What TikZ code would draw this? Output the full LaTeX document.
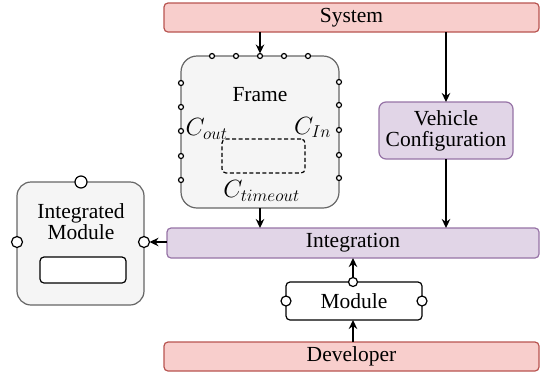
\documentclass[tikz,border=0pt]{standalone}
\usepackage{fontspec}
\setmainfont{Liberation Serif}
\usetikzlibrary{arrows.meta}
\definecolor{redfill}{HTML}{F8CECC}
\definecolor{redline}{HTML}{B85450}
\definecolor{purfill}{HTML}{E1D5E7}
\definecolor{purline}{HTML}{9673A6}
\definecolor{grayfill}{HTML}{F5F5F5}
\definecolor{grayline}{HTML}{666666}
\tikzset{
  x=1pt, y=-1pt,
  every node/.style={inner sep=0pt, outer sep=0pt, font=\fontsize{21.5}{24}\selectfont},
  mathlbl/.style={font=\fontsize{23}{26}\selectfont},
  bar/.style={draw=redline, fill=redfill, rounded corners=4pt, line width=1.2pt, minimum width=375pt, minimum height=29pt},
  pbar/.style={draw=purline, fill=purfill, rounded corners=4pt, line width=1.2pt},
  gbox/.style={draw=grayline, fill=grayfill, line width=1.2pt},
  port/.style={circle, draw=black, fill=white, line width=1.2pt, minimum size=#1},
  port/.default=5pt,
  arr/.style={-{Stealth[length=9pt,width=8.5pt]}, line width=1.3pt},
}
\begin{document}
\begin{tikzpicture}
\useasboundingbox (0,0) rectangle (540,376);
% bars
\node[bar] (sys) at (351.5,17.5) {System};
\node[pbar, minimum width=372pt, minimum height=30pt] (integ) at (353,243) {Integration};
\node[bar] (dev) at (351.5,356.5) {Developer};
% frame
\node[gbox, rounded corners=16pt, minimum width=158pt, minimum height=152pt] (frame) at (260,132) {};
\node (frametxt) at (260,95) {Frame};
\node[draw, dash pattern=on 4pt off 2.5pt, rounded corners=4pt, line width=1.2pt, minimum width=83pt, minimum height=34pt] (slot) at (263.5,156) {};
\node[mathlbl] (cout) at (206.5,129) {$C_{out}$};
\node[mathlbl] (cin) at (312.5,127.5) {$C_{In}$};
\node[mathlbl] (ctime) at (261.5,191) {$C_{timeout}$};
\foreach \i/\x in {1/212,2/236,3/260,4/284,5/308}{
  \node[port] (ft\i) at (\x,56) {};
}
\foreach \i/\y in {1/83,2/107,3/131,4/156,5/180}{
  \node[port] (fl\i) at (181,\y) {};
}
\foreach \i/\y in {1/82,2/105,3/130,4/155,5/178}{
  \node[port] (fr\i) at (339,\y) {};
}
% vehicle configuration
\node[pbar, rounded corners=7pt, minimum width=134pt, minimum height=57pt, align=center] (vc) at (446,130.5) {Vehicle\\[-3pt]Configuration};
% integrated module
\node[gbox, rounded corners=14pt, minimum width=127pt, minimum height=123pt] (im) at (80.5,243.5) {};
\node[align=center] (imtxt) at (81,222) {Integrated\\[-3pt]Module};
\node[draw, fill=white, rounded corners=4pt, line width=1.2pt, minimum width=86pt, minimum height=26pt] (iminner) at (83,270) {};
\node[port=12pt] (imt) at (81,182) {};
\node[port=11pt] (iml) at (17,242) {};
\node[port=11pt] (imr) at (144,242) {};
% module
\node[draw, fill=white, rounded corners=4pt, line width=1.2pt, minimum width=136pt, minimum height=38pt] (mod) at (354,301) {Module};
\node[port=9pt] (modt) at (353,282) {};
\node[port=10pt] (modl) at (286,301) {};
\node[port=10pt] (modr) at (422,301) {};
% connectors
\draw[arr] (sys.south -| ft3) -- (ft3.north);
\draw[arr] (sys.south -| vc) -- (vc.north);
\draw[arr] (frame.south) -- (integ.north -| frame.south);
\draw[arr] (vc.south) -- (integ.north -| vc.south);
\draw[arr] (integ.west |- imr) -- (imr.east);
\draw[arr] (modt.north) -- (integ.south -| modt);
\draw[arr] (dev.north -| modt) -- (mod.south -| modt);
\end{tikzpicture}
\end{document}
